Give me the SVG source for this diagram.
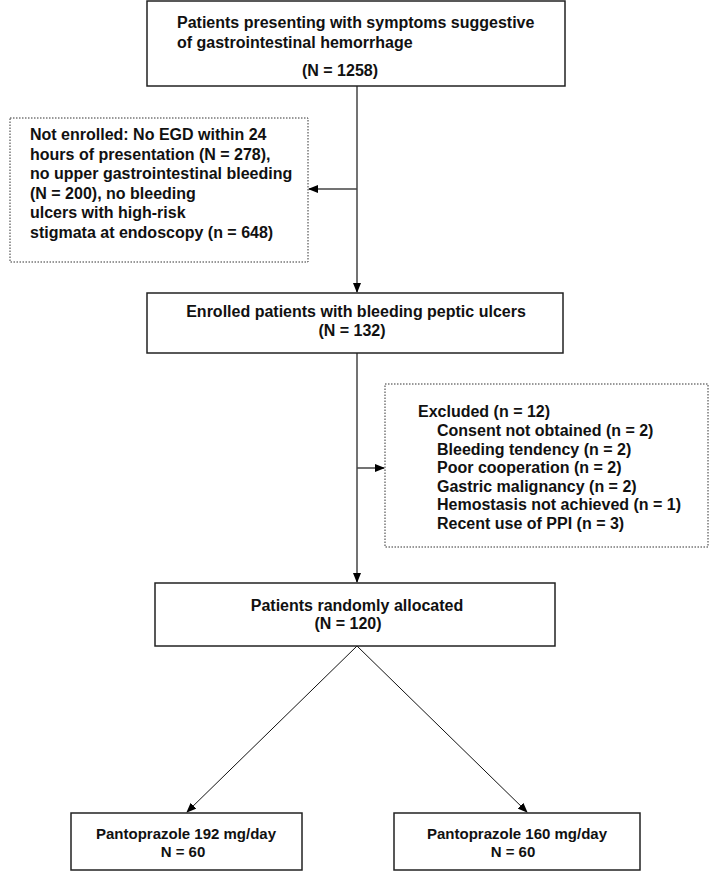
<svg xmlns="http://www.w3.org/2000/svg" width="709" height="872" viewBox="0 0 709 872">
<defs>
<marker id="ah" markerWidth="10" markerHeight="8" refX="9" refY="4" orient="auto" markerUnits="userSpaceOnUse">
<path d="M0,0 L10,4 L0,8 Z" fill="#000"/>
</marker>
<style>
.box{fill:#fff;stroke:#222;stroke-width:1.5}
.dot{fill:#fff;stroke:#333;stroke-width:1;stroke-dasharray:1.5 1.5}
.t{font-family:"Liberation Sans",Arial,sans-serif;font-weight:bold;font-size:16px;fill:#111}
.s{font-size:15px}
.c{text-anchor:middle}
.ln{stroke:#444;stroke-width:1.5;fill:none}
.ln2{stroke:#111;stroke-width:1;fill:none}
</style>
</defs>
<g id="connectors">
<line class="ln" x1="357" y1="86" x2="357" y2="292" marker-end="url(#ah)"/>
<line class="ln" x1="357" y1="189" x2="309" y2="189" marker-end="url(#ah)"/>
<line class="ln" x1="357" y1="353" x2="357" y2="582" marker-end="url(#ah)"/>
<line class="ln" x1="357" y1="468" x2="384" y2="468" marker-end="url(#ah)"/>
<line class="ln2" x1="357" y1="646" x2="187" y2="812" marker-end="url(#ah)"/>
<line class="ln2" x1="357" y1="646" x2="527" y2="812" marker-end="url(#ah)"/>
</g>
<g id="n1">
<rect class="box" x="147" y="1" width="418" height="85"/>
<text class="t" x="177" y="28">Patients presenting with symptoms suggestive</text>
<text class="t" x="177" y="48">of gastrointestinal hemorrhage</text>
<text class="t c" x="340" y="76">(N = 1258)</text>
</g>
<g id="n2">
<rect class="dot" x="10" y="118" width="298" height="144"/>
<text class="t" x="30" y="140">Not enrolled: No EGD within 24</text>
<text class="t" x="30" y="159.5">hours of presentation (N = 278),</text>
<text class="t" x="30" y="179">no upper gastrointestinal bleeding</text>
<text class="t" x="30" y="198.5">(N = 200), no bleeding</text>
<text class="t" x="30" y="218">ulcers with high-risk</text>
<text class="t" x="30" y="237.5">stigmata at endoscopy (n = 648)</text>
</g>
<g id="n3">
<rect class="box" x="147" y="293" width="416" height="60"/>
<text class="t c" x="356" y="317">Enrolled patients with bleeding peptic ulcers</text>
<text class="t c" x="352" y="336">(N = 132)</text>
</g>
<g id="n4">
<rect class="dot" x="385" y="384" width="323" height="163"/>
<text class="t" x="418" y="417">Excluded (n = 12)</text>
<text class="t" x="437" y="436">Consent not obtained (n = 2)</text>
<text class="t" x="437" y="454.5">Bleeding tendency (n = 2)</text>
<text class="t" x="437" y="473">Poor cooperation (n = 2)</text>
<text class="t" x="437" y="491.5">Gastric malignancy (n = 2)</text>
<text class="t" x="437" y="510">Hemostasis not achieved (n = 1)</text>
<text class="t" x="437" y="528.5">Recent use of PPI (n = 3)</text>
</g>
<g id="n5">
<rect class="box" x="155" y="583" width="400" height="63"/>
<text class="t c" x="357" y="611">Patients randomly allocated</text>
<text class="t c" x="348" y="629">(N = 120)</text>
</g>
<g id="n6">
<rect class="box" x="71" y="813" width="231" height="57"/>
<text class="t s c" x="186" y="839">Pantoprazole 192 mg/day</text>
<text class="t s c" x="183" y="857">N = 60</text>
</g>
<g id="n7">
<rect class="box" x="394" y="813" width="246" height="57"/>
<text class="t s c" x="517" y="839">Pantoprazole 160 mg/day</text>
<text class="t s c" x="513" y="857">N = 60</text>
</g>
</svg>
